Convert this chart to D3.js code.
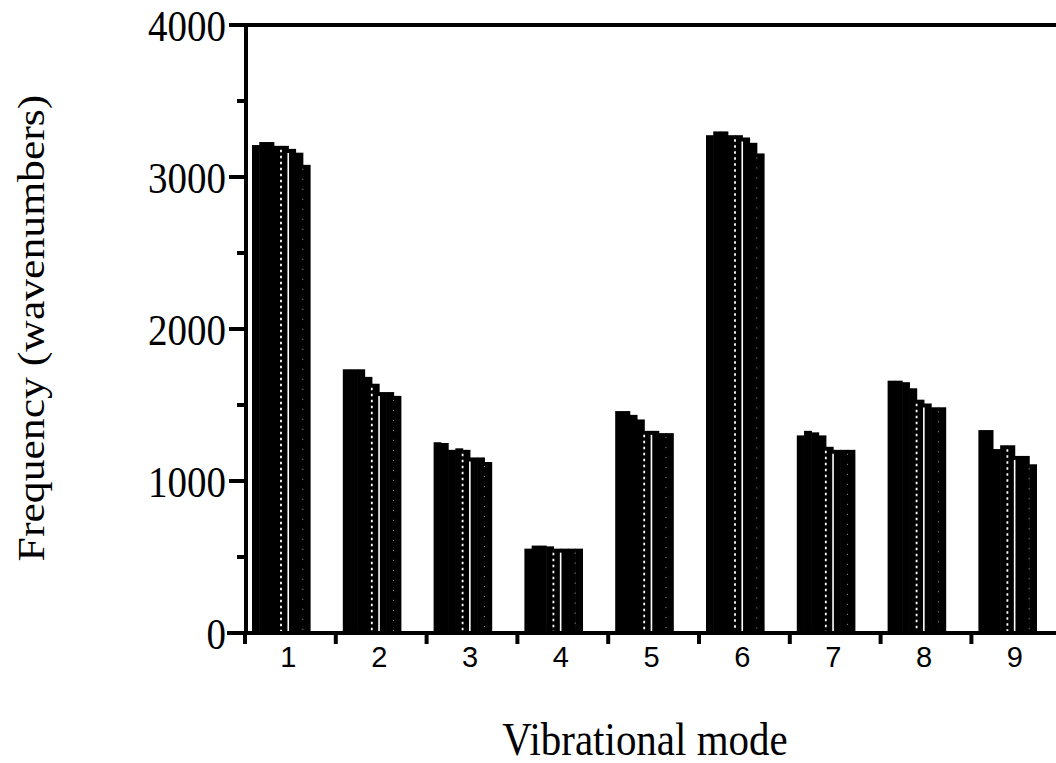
<!DOCTYPE html>
<html>
<head>
<meta charset="utf-8">
<script src="https://cdn.jsdelivr.net/npm/d3@7"></script>
<style>
  body { margin: 0; background: #fff; }
  svg { display: block; }
</style>
</head>
<body>
<svg width="1056" height="763"></svg>
<script>
// vibrational modes on the x axis
const modes = ['1', '2', '3', '4', '5', '6', '7', '8', '9'];

// 8 bars per mode, frequencies in wavenumbers
const mode1 = [3210, 3230, 3230, 3205, 3205, 3185, 3160, 3080];
const mode2 = [1735, 1735, 1735, 1685, 1640, 1585, 1585, 1560];
const mode3 = [1255, 1250, 1205, 1215, 1205, 1155, 1155, 1125];
const mode4 = [555, 575, 575, 570, 555, 555, 555, 555];
const mode5 = [1460, 1460, 1435, 1405, 1330, 1330, 1315, 1315];
const mode6 = [3275, 3300, 3300, 3275, 3275, 3260, 3225, 3155];
const mode7 = [1300, 1330, 1320, 1300, 1225, 1205, 1205, 1205];
const mode8 = [1660, 1660, 1650, 1610, 1535, 1510, 1485, 1485];
const mode9 = [1335, 1335, 1210, 1235, 1235, 1165, 1165, 1110];
const freqs = [mode1, mode2, mode3, mode4, mode5, mode6, mode7, mode8, mode9];

const yTicks = [0, 500, 1000, 1500, 2000, 2500, 3000, 3500, 4000];
const yLabels = [0, 1000, 2000, 3000, 4000];

const svg = d3.select('svg');
const width = +svg.attr('width');

const y = d3.scaleLinear().domain([0, 4000]).range([633, 25]);
const x = d3.scaleBand().domain(modes).range([245, 245 + 9 * 90.8]);
const xs = d3.scaleBand().domain(d3.range(8)).range([7, 65]);

const serif = '"Liberation Serif", "Times New Roman", serif';
const sans = '"Liberation Sans", Arial, sans-serif';

// bars
const group = svg.append('g')
  .selectAll('g')
  .data(modes)
  .enter().append('g')
    .attr('transform', m => `translate(${x(m)},0)`);

group.selectAll('rect')
  .data((m, i) => freqs[i])
  .enter().append('rect')
    .attr('x', (d, j) => xs(j))
    .attr('width', xs.bandwidth() + 0.6)
    .attr('y', d => y(d))
    .attr('height', d => y(0) - y(d))
    .attr('fill', '#000');

// white separators between some of the bars
const sep = (j, dash, w, op) => {
  group.append('line')
    .attr('x1', xs(j)).attr('x2', xs(j))
    .attr('y1', (m, i) => y(Math.min(freqs[i][j - 1], freqs[i][j])) + 4)
    .attr('y2', y(0) - 2)
    .attr('stroke', '#fff')
    .attr('stroke-width', w)
    .attr('stroke-dasharray', dash)
    .attr('opacity', op);
};
sep(4, '2.5,3.5', 1.8, 1);
sep(5, null, 1.6, 1);
sep(7, '1,9', 1, 0.6);

// frame lines
svg.append('line')
  .attr('x1', 229).attr('x2', width)
  .attr('y1', y(4000)).attr('y2', y(4000))
  .attr('stroke', '#000').attr('stroke-width', 4);

svg.append('line')
  .attr('x1', 227).attr('x2', width)
  .attr('y1', y(0)).attr('y2', y(0))
  .attr('stroke', '#000').attr('stroke-width', 4);

svg.append('line')
  .attr('x1', 246).attr('x2', 246)
  .attr('y1', y(4000)).attr('y2', y(0) + 2)
  .attr('stroke', '#000').attr('stroke-width', 4);

// y ticks
svg.append('g')
  .selectAll('line')
  .data(yTicks)
  .enter().append('line')
    .attr('x1', d => d % 1000 === 0 ? 229 : 237)
    .attr('x2', 246)
    .attr('y1', d => y(d)).attr('y2', d => y(d))
    .attr('stroke', '#000').attr('stroke-width', 4);

svg.append('g')
  .selectAll('text')
  .data(yLabels)
  .enter().append('text')
    .attr('transform', d => `translate(226,${y(d)}) scale(1,1.15)`)
    .attr('dy', '0.35em')
    .attr('text-anchor', 'end')
    .attr('font-family', serif)
    .attr('font-size', 39)
    .text(d => d);

// x ticks at mode boundaries
const bounds = modes.map(m => x(m)).concat([x.range()[1]]);
svg.append('g')
  .selectAll('line')
  .data(bounds)
  .enter().append('line')
    .attr('x1', d => d).attr('x2', d => d)
    .attr('y1', y(0)).attr('y2', y(0) + 11)
    .attr('stroke', '#000').attr('stroke-width', 4);

svg.append('g')
  .selectAll('text')
  .data(modes)
  .enter().append('text')
    .attr('x', m => x(m) + x.bandwidth() / 2 - 2)
    .attr('y', 667)
    .attr('text-anchor', 'middle')
    .attr('font-family', sans)
    .attr('font-size', 29)
    .text(m => m);

// axis titles
svg.append('text')
  .attr('transform', 'translate(645,755) scale(1,1.12)')
  .attr('text-anchor', 'middle')
  .attr('font-family', serif)
  .attr('font-size', 41)
  .text('Vibrational mode');

svg.append('text')
  .attr('transform', 'translate(44,328) scale(1,1.12) rotate(-90)')
  .attr('text-anchor', 'middle')
  .attr('font-family', serif)
  .attr('font-size', 39)
  .text('Frequency (wavenumbers)');
</script>
</body>
</html>
